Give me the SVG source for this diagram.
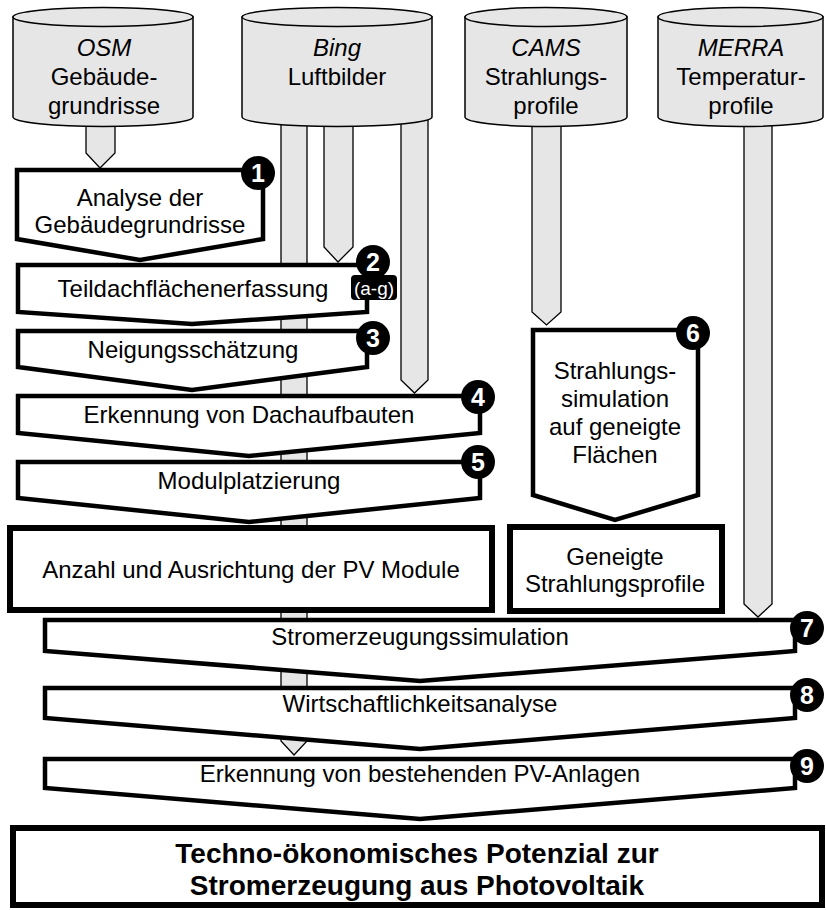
<svg xmlns="http://www.w3.org/2000/svg" width="826" height="910" viewBox="0 0 826 910">
<style>
text{font-family:"Liberation Sans",Arial,sans-serif;font-size:24px;fill:#000;text-anchor:middle}
.it{font-style:italic}
.cyl{fill:#e6e6e6;stroke:#000;stroke-width:1.5}
.pipe{fill:#e6e6e6;stroke:#000;stroke-width:1.3;stroke-linejoin:miter}
.proc{fill:#fff;stroke:#000;stroke-width:4.5;stroke-linejoin:miter}
.res{fill:#fff;stroke:#000;stroke-width:6}
.badge{fill:#000}
.bn{fill:#fff;font-weight:bold;font-size:25px}
.bold{font-weight:bold;font-size:28px}
.ag{fill:#fff;font-size:19px}
</style>
<rect width="826" height="910" fill="#fff"/>
<g id="connectors">
<path class="pipe" d="M86,110 V153 L100,168 L115,153 V110 Z"/>
<path class="pipe" d="M281,110 V741 L294,755 L307,741 V110 Z"/>
<path class="pipe" d="M324,110 V247 L338,262 L353,247 V110 Z"/>
<path class="pipe" d="M401,110 V380 L414.5,393 L428,380 V110 Z"/>
<path class="pipe" d="M532,110 V312 L546.5,325 L561,312 V110 Z"/>
<path class="pipe" d="M744,110 V604 L758,617 L772,604 V110 Z"/>
</g>
<g id="osm">
<path class="cyl" d="M13,17 V117 A90,9.5 0 0 0 193,117 V17 Z"/>
<ellipse class="cyl" cx="103" cy="17" rx="90" ry="9.5"/>
<text x="104" y="56" class="it">OSM</text>
<text x="104" y="85">Gebäude-</text>
<text x="104" y="114">grundrisse</text>
</g>
<g id="bing">
<path class="cyl" d="M242,17 V117 A95,9.5 0 0 0 432,117 V17 Z"/>
<ellipse class="cyl" cx="337" cy="17" rx="95" ry="9.5"/>
<text x="337" y="56" class="it">Bing</text>
<text x="337" y="85">Luftbilder</text>
</g>
<g id="cams">
<path class="cyl" d="M465,17 V117 A81,9.5 0 0 0 627,117 V17 Z"/>
<ellipse class="cyl" cx="546" cy="17" rx="81" ry="9.5"/>
<text x="546" y="56" class="it">CAMS</text>
<text x="546" y="85">Strahlungs-</text>
<text x="546" y="114">profile</text>
</g>
<g id="merra">
<path class="cyl" d="M658,17 V117 A82.5,9.5 0 0 0 823,117 V17 Z"/>
<ellipse class="cyl" cx="740.5" cy="17" rx="82.5" ry="9.5"/>
<text x="741" y="56" class="it">MERRA</text>
<text x="741" y="85">Temperatur-</text>
<text x="741" y="114">profile</text>
</g>
<g id="step1">
<path class="proc" d="M17,170 H263 V239 L140,260 L17,239 Z"/>
<text x="140" y="206">Analyse der</text>
<text x="140" y="233">Gebäudegrundrisse</text>
<circle class="badge" cx="258" cy="173" r="17"/>
<text x="258" y="182" class="bn">1</text>
</g>
<g id="step2">
<path class="proc" d="M18,265 H367 V312 L192,324 L18,312 Z"/>
<text x="193" y="297">Teildachflächenerfassung</text>
<circle class="badge" cx="373" cy="262" r="17"/>
<text x="373" y="271" class="bn">2</text>
<rect x="351" y="275" width="46" height="25" rx="4" fill="#000"/>
<text x="374" y="295" class="ag">(a-g)</text>
</g>
<g id="step3">
<path class="proc" d="M18,331 H367 V367 L192,390 L18,367 Z"/>
<text x="193" y="358">Neigungsschätzung</text>
<circle class="badge" cx="373" cy="338" r="17"/>
<text x="373" y="347" class="bn">3</text>
</g>
<g id="step4">
<path class="proc" d="M18,396 H480 V433 L249,456 L18,433 Z"/>
<text x="249" y="423">Erkennung von Dachaufbauten</text>
<circle class="badge" cx="478" cy="397" r="17"/>
<text x="478" y="406" class="bn">4</text>
</g>
<g id="step5">
<path class="proc" d="M18,462 H480 V498 L249,522 L18,498 Z"/>
<text x="249" y="489">Modulplatzierung</text>
<circle class="badge" cx="478" cy="462" r="17"/>
<text x="478" y="471" class="bn">5</text>
</g>
<g id="modules">
<rect class="res" x="10" y="528" width="482" height="82"/>
<text x="251" y="578">Anzahl und Ausrichtung der PV Module</text>
</g>
<g id="step6">
<path class="proc" d="M533,330 H698 V495 L615,520 L533,495 Z"/>
<text x="615" y="379">Strahlungs-</text>
<text x="615" y="407">simulation</text>
<text x="615" y="435">auf geneigte</text>
<text x="615" y="463">Flächen</text>
<circle class="badge" cx="693" cy="333" r="17"/>
<text x="693" y="342" class="bn">6</text>
</g>
<g id="tilted">
<rect class="res" x="510" y="527" width="212" height="84"/>
<text x="615" y="565">Geneigte</text>
<text x="615" y="592">Strahlungsprofile</text>
</g>
<g id="step7">
<path class="proc" d="M45,620 H795 V651 L420,681 L45,651 Z"/>
<text x="420" y="645">Stromerzeugungssimulation</text>
<circle class="badge" cx="807" cy="628" r="17"/>
<text x="807" y="637" class="bn">7</text>
</g>
<g id="step8">
<path class="proc" d="M45,688 H795 V718 L420,749 L45,718 Z"/>
<text x="420" y="712">Wirtschaftlichkeitsanalyse</text>
<circle class="badge" cx="807" cy="695" r="17"/>
<text x="807" y="704" class="bn">8</text>
</g>
<g id="step9">
<path class="proc" d="M45,759 H795 V788 L420,819 L45,788 Z"/>
<text x="420" y="782">Erkennung von bestehenden PV-Anlagen</text>
<circle class="badge" cx="807" cy="766" r="17"/>
<text x="807" y="775" class="bn">9</text>
</g>
<g id="result">
<rect class="res" x="13" y="828" width="809" height="77"/>
<text x="417" y="863" class="bold">Techno-ökonomisches Potenzial zur</text>
<text x="417" y="895" class="bold">Stromerzeugung aus Photovoltaik</text>
</g>
</svg>
